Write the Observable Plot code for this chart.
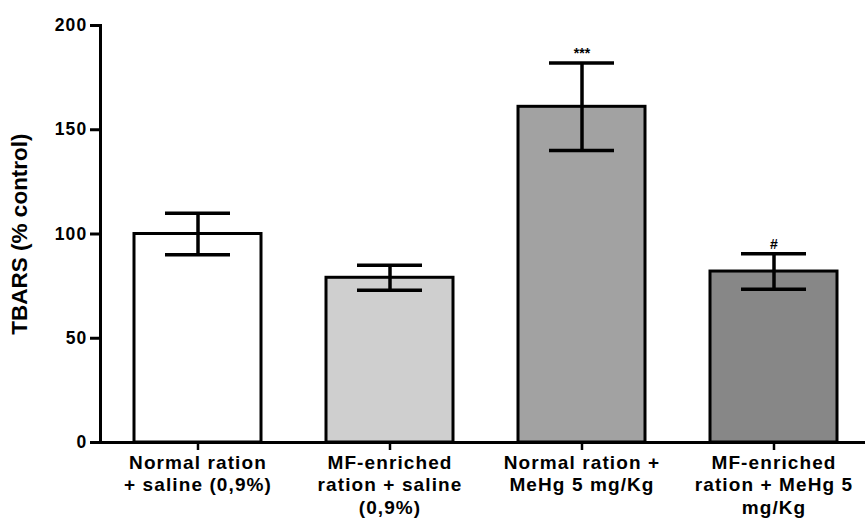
<!DOCTYPE html>
<html>
<head>
<meta charset="utf-8">
<script src="https://cdn.jsdelivr.net/npm/d3@7"></script>
<script src="https://cdn.jsdelivr.net/npm/@observablehq/plot@0.6"></script>
<style>
  html, body { margin: 0; padding: 0; background: #fff; overflow: hidden; }
  svg { overflow: hidden; }
  g[aria-label="x-axis tick label"] text { letter-spacing: 1.1px; }
  g[aria-label="y-axis tick label"] text { letter-spacing: 1.2px; }
</style>
</head>
<body>
<div id="chart"></div>
<script>
const groups = [
  "Normal ration\n+ saline (0,9%)",
  "MF-enriched\nration + saline\n(0,9%)",
  "Normal ration +\nMeHg 5 mg/Kg",
  "MF-enriched\nration + MeHg 5\nmg/Kg"
];
const means = [100, 79, 161, 82];
const errLow = [90, 73, 140, 73.5];
const errHigh = [110, 85, 182, 90.5];
const fills = ["#ffffff", "#cfcfcf", "#a2a2a2", "#878787"];
const signif = ["", "", "***", "#"];
const yTicks = [0, 50, 100, 150, 200];
const yLabel = "TBARS (% control)";

const data = groups.map((g, i) => ({
  group: g, mean: means[i], lo: errLow[i], hi: errHigh[i], fill: fills[i], mark: signif[i]
}));

const chart = Plot.plot({
  width: 865,
  height: 521,
  marginLeft: 100,
  marginRight: 0,
  marginTop: 25,
  marginBottom: 79,
  style: {fontFamily: "'Liberation Sans', Arial, sans-serif", fontWeight: "bold", color: "black", background: "white"},
  x: {domain: groups, range: [100, 872], paddingInner: 0.336, paddingOuter: 0.171, align: 0.5},
  y: {domain: [0, 200], ticks: yTicks},
  marks: [
    Plot.barY(data, {x: "group", y: "mean", fill: "fill", stroke: "black", strokeWidth: 3}),
    Plot.ruleX(data, {x: "group", y1: "lo", y2: "hi", stroke: "black", strokeWidth: 3.5}),
    Plot.tickY(data, {x: "group", y: "lo", insetLeft: 31, insetRight: 31, stroke: "black", strokeWidth: 3.5}),
    Plot.tickY(data, {x: "group", y: "hi", insetLeft: 31, insetRight: 31, stroke: "black", strokeWidth: 3.5}),
    Plot.text(data, {x: "group", y: "hi", text: "mark", dy: -5, lineAnchor: "bottom", fontSize: 14, fill: "black"}),
    Plot.frame({anchor: "left", stroke: "black", strokeWidth: 3}),
    Plot.ruleY([0], {stroke: "black", strokeWidth: 3}),
    Plot.axisY({ticks: yTicks, tickSize: 10, tickPadding: 3, fontSize: 17.5, strokeWidth: 3, label: null}),
    Plot.axisX({tickSize: 8, tickPadding: 2, fontSize: 19, lineHeight: 1.2, strokeWidth: 2.5, label: null}),
    Plot.text([yLabel], {frameAnchor: "left", textAnchor: "middle", rotate: -90, dx: -81, fontSize: 22.5, fill: "black"})
  ]
});
document.getElementById("chart").appendChild(chart);
</script>
</body>
</html>
